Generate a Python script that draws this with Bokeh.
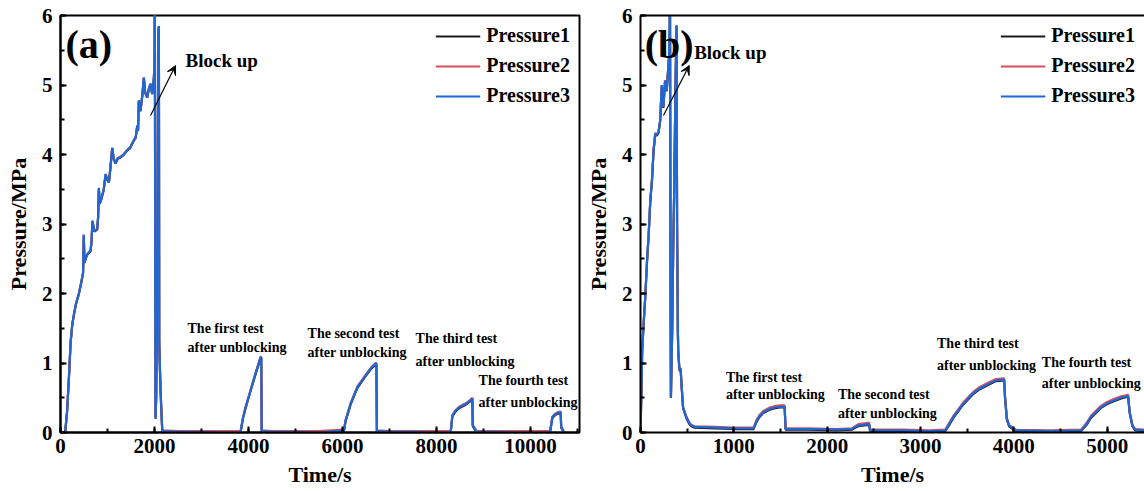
from bokeh.plotting import figure
from bokeh.layouts import row
from bokeh.models import (Range1d, Label, Arrow, VeeHead, LinearAxis, Legend,
                          LegendItem, SingleIntervalTicker, FixedTicker)
from bokeh.embed import file_html
from bokeh.resources import INLINE

FONT = "Liberation Serif"

# ---------------- Panel (a) data ----------------
a_time = [0, 100, 140, 180, 215, 250, 285, 330, 390, 440, 480, 495, 510, 560, 640, 660, 680, 720,
          780, 800, 816, 835, 870, 920, 960, 990, 1030, 1060, 1100, 1130, 1170, 1220, 1280, 1340,
          1420, 1480, 1560, 1600, 1632, 1650, 1666, 1700, 1740, 1773, 1800, 1845, 1880, 1915, 1950,
          1986, 2000, 2007, 2012, 2021, 2035, 2060, 2080, 2093, 2100, 2120, 2140, 2165, 2500, 3000,
          3500, 3830, 3880, 3937, 4043, 4150, 4256, 4270, 4280, 4500, 5000, 5500, 6030, 6064, 6170,
          6313, 6490, 6600, 6703, 6720, 6730, 7000, 7500, 8000, 8300, 8335, 8400, 8477, 8620, 8700,
          8761, 8770, 8850, 9200, 9700, 10413, 10463, 10520, 10570, 10640, 10650, 10711]
a_p3 = [0.0, 0.01, 0.3, 0.8, 1.3, 1.55, 1.7, 1.85, 2.0, 2.15, 2.3, 2.85, 2.45, 2.55, 2.62, 2.75, 3.05, 2.9,
        2.92, 3.1, 3.52, 3.3, 3.36, 3.5, 3.72, 3.65, 3.6, 3.8, 4.1, 3.95, 3.87, 3.95, 3.96, 4.0,
        4.06, 4.1, 4.2, 4.25, 4.42, 4.35, 4.78, 4.63, 4.85, 5.11, 4.9, 4.82, 4.95, 5.02, 4.87,
        5.1, 5.3, 6.5, 3.9, 0.2, 0.5, 2.0, 5.8, 5.85, 1.3, 0.8, 0.4, 0.02, 0.01, 0.01,
        0.0, 0.0, 0.2, 0.36, 0.6, 0.85, 1.08, 1.08, 0.02, 0.01, 0.01, 0.0, 0.03, 0.17, 0.41,
        0.65, 0.82, 0.92, 0.99, 0.99, 0.02, 0.01, 0.01, 0.0, 0.0, 0.24, 0.31, 0.36, 0.41, 0.45,
        0.49, 0.1, 0.01, 0.01, 0.0, 0.0, 0.22, 0.26, 0.28, 0.29, 0.08, 0.0]
a_p2 = [0.0, 0.01, 0.31, 0.8, 1.3, 1.56, 1.7, 1.86, 2.0, 2.16, 2.3, 2.84, 2.45, 2.56, 2.62, 2.76, 3.04, 2.9,
        2.93, 3.1, 3.5, 3.3, 3.37, 3.5, 3.71, 3.65, 3.61, 3.8, 4.09, 3.95, 3.88, 3.95, 3.97, 4.0,
        4.07, 4.1, 4.21, 4.25, 4.4, 4.35, 4.76, 4.63, 4.85, 5.1, 4.9, 4.83, 4.95, 5.02, 4.88,
        5.1, 5.3, 6.4, 3.9, 0.22, 0.5, 2.0, 5.78, 5.84, 1.3, 0.8, 0.41, 0.03, 0.02, 0.02,
        0.02, 0.02, 0.21, 0.37, 0.61, 0.86, 1.09, 1.09, 0.03, 0.02, 0.02, 0.02, 0.04, 0.18, 0.42,
        0.66, 0.83, 0.93, 1.0, 1.0, 0.03, 0.02, 0.02, 0.02, 0.02, 0.25, 0.32, 0.37, 0.42, 0.46,
        0.5, 0.11, 0.02, 0.02, 0.02, 0.02, 0.23, 0.27, 0.29, 0.3, 0.09, 0.01]
a_p1 = [0.0, 0.0, 0.3, 0.79, 1.29, 1.55, 1.69, 1.85, 1.99, 2.15, 2.29, 2.83, 2.44, 2.55, 2.61, 2.75, 3.03, 2.89,
        2.92, 3.09, 3.5, 3.29, 3.36, 3.49, 3.71, 3.64, 3.6, 3.79, 4.09, 3.94, 3.87, 3.94, 3.96, 3.99,
        4.06, 4.09, 4.2, 4.24, 4.41, 4.34, 4.77, 4.62, 4.84, 5.1, 4.89, 4.82, 4.94, 5.01, 4.87,
        5.09, 5.29, 6.45, 3.88, 0.2, 0.49, 1.98, 5.79, 5.84, 1.29, 0.79, 0.4, 0.01, 0.0, 0.0,
        0.0, 0.0, 0.2, 0.35, 0.6, 0.84, 1.07, 1.07, 0.01, 0.0, 0.0, 0.0, 0.02, 0.16, 0.4,
        0.64, 0.81, 0.91, 0.98, 0.98, 0.01, 0.0, 0.0, 0.0, 0.0, 0.23, 0.3, 0.35, 0.4, 0.44,
        0.48, 0.09, 0.0, 0.0, 0.0, 0.0, 0.21, 0.25, 0.27, 0.28, 0.07, 0.0]

# ---------------- Panel (b) data ----------------
b_time = [0, 10, 18, 35, 53, 70, 88, 105, 123, 140, 158, 175, 193, 211, 228, 245, 263, 281, 298, 310,
          316, 322, 326, 340, 351, 360, 375, 386, 392, 400, 404, 415, 421, 430, 439, 456, 491, 520,
          544, 579, 800, 1000, 1211, 1246, 1280, 1316, 1386, 1440, 1491, 1544, 1555, 1800, 2100,
          2264, 2300, 2334, 2439, 2450, 2460, 2800, 3100, 3264, 3300, 3352, 3457, 3562, 3630, 3703,
          3808, 3896, 3906, 3925, 3949, 4019, 4400, 4720, 4780, 4826, 4931, 5000, 5072, 5150, 5212,
          5225, 5240, 5270, 5300, 5400]
b_p3 = [0.0, 0.6, 1.18, 1.6, 2.0, 2.47, 2.86, 3.34, 3.63, 4.06, 4.3, 4.28, 4.32, 4.49, 5.0, 4.68, 5.06, 4.92, 5.26, 5.5,
        6.3, 2.0, 0.51, 1.5, 2.7, 3.4, 5.0, 5.86, 3.0, 1.5, 1.18, 0.95, 0.89, 0.92, 0.7, 0.36, 0.22, 0.14,
        0.1, 0.08, 0.07, 0.06, 0.06, 0.17, 0.24, 0.29, 0.34, 0.36, 0.37, 0.37, 0.05, 0.05, 0.04,
        0.05, 0.08, 0.1, 0.12, 0.12, 0.03, 0.03, 0.02, 0.03, 0.1, 0.22, 0.41, 0.56, 0.63, 0.68,
        0.75, 0.76, 0.5, 0.2, 0.1, 0.03, 0.02, 0.03, 0.12, 0.22, 0.36, 0.42, 0.46, 0.5, 0.52,
        0.52, 0.3, 0.1, 0.04, 0.03]
b_p2 = [0.0, 0.61, 1.19, 1.61, 2.01, 2.48, 2.87, 3.35, 3.64, 4.07, 4.31, 4.29, 4.33, 4.5, 5.0, 4.69, 5.07, 4.93, 5.27, 5.5,
        6.3, 2.0, 0.52, 1.5, 2.7, 3.4, 5.0, 5.86, 3.0, 1.5, 1.19, 0.96, 0.9, 0.93, 0.71, 0.37, 0.23, 0.15,
        0.11, 0.09, 0.08, 0.07, 0.07, 0.19, 0.26, 0.31, 0.36, 0.38, 0.39, 0.39, 0.06, 0.06, 0.05,
        0.06, 0.09, 0.12, 0.14, 0.14, 0.04, 0.04, 0.03, 0.04, 0.12, 0.24, 0.43, 0.58, 0.65, 0.7,
        0.77, 0.78, 0.52, 0.21, 0.11, 0.04, 0.03, 0.04, 0.14, 0.24, 0.38, 0.44, 0.48, 0.52, 0.54,
        0.54, 0.31, 0.11, 0.05, 0.04]
b_p1 = [0.0, 0.6, 1.17, 1.59, 1.99, 2.46, 2.85, 3.33, 3.62, 4.05, 4.29, 4.27, 4.31, 4.48, 4.98, 4.67, 5.05, 4.91, 5.25, 5.49,
        6.28, 1.98, 0.5, 1.49, 2.69, 3.39, 4.98, 5.84, 2.98, 1.49, 1.17, 0.94, 0.88, 0.91, 0.69, 0.35, 0.21, 0.13,
        0.09, 0.07, 0.06, 0.05, 0.05, 0.16, 0.23, 0.28, 0.33, 0.35, 0.36, 0.36, 0.04, 0.04, 0.03,
        0.04, 0.07, 0.09, 0.11, 0.11, 0.02, 0.02, 0.01, 0.02, 0.09, 0.21, 0.4, 0.55, 0.62, 0.67,
        0.74, 0.75, 0.49, 0.19, 0.09, 0.02, 0.01, 0.02, 0.11, 0.21, 0.35, 0.41, 0.45, 0.49, 0.51,
        0.51, 0.29, 0.09, 0.03, 0.02]

series_names = ["Pressure1", "Pressure2", "Pressure3"]
series_colors = ["#1a1a1a", "#d8505a", "#1f68d4"]
test_line1 = ["The first test", "The second test", "The third test", "The fourth test"]
test_line2 = "after unblocking"


def make_panel(width, x_end, x_interval, border_left, border_right, time, series, outline):
    p = figure(width=width, height=491, x_range=Range1d(0, x_end), y_range=Range1d(0, 6),
               output_backend="svg", toolbar_location=None,
               min_border_left=border_left, min_border_right=border_right,
               min_border_top=15, min_border_bottom=59)
    p.grid.visible = False
    p.background_fill_color = "white"
    p.border_fill_color = "white"
    xax = p.below[0]
    yax = p.left[0]
    xax.ticker = SingleIntervalTicker(interval=x_interval, num_minor_ticks=2)
    yax.ticker = SingleIntervalTicker(interval=1, num_minor_ticks=2)
    xax.axis_label = "Time/s"
    yax.axis_label = "Pressure/MPa"
    for ax in [xax, yax]:
        ax.axis_line_width = 2
        ax.axis_line_color = "black"
        ax.major_tick_in = 6
        ax.major_tick_out = 0
        ax.minor_tick_in = 4
        ax.minor_tick_out = 0
        ax.major_tick_line_width = 2
        ax.minor_tick_line_width = 2
        ax.major_label_text_font = FONT
        ax.major_label_text_font_style = "bold"
        ax.major_label_text_font_size = "21px"
        ax.major_label_text_color = "black"
        ax.axis_label_text_font = FONT
        ax.axis_label_text_font_style = "bold"
        ax.axis_label_text_font_size = "22px"
        ax.axis_label_text_color = "black"
        ax.major_label_standoff = 8
        ax.axis_label_standoff = 8
    xax.major_label_standoff = 6
    xax.axis_label_standoff = 6
    if outline:
        p.outline_line_color = "black"
        p.outline_line_width = 2
    else:
        p.outline_line_color = None
        top = LinearAxis(ticker=FixedTicker(ticks=[]), axis_line_width=2,
                         axis_line_color="black", major_tick_line_color=None,
                         minor_tick_line_color=None, major_label_text_font_size="0px")
        p.add_layout(top, "above")

    items = []
    for name, color, vals in zip(series_names, series_colors, series):
        r = p.line(time, vals, line_color=color, line_width=2.2)
        items.append(LegendItem(label=name, renderers=[r]))
    legend = Legend(items=items, location="top_right", border_line_color=None,
                    background_fill_alpha=0, label_text_font=FONT,
                    label_text_font_style="bold", label_text_font_size="20px",
                    label_text_color="black",
                    glyph_width=45, glyph_height=20, label_height=20, label_standoff=6,
                    spacing=7, padding=0, margin=9)
    p.add_layout(legend)
    return p


def add_text(p, x, y, text, size):
    p.add_layout(Label(x=x, y=y, text=text, text_font=FONT, text_font_style="bold",
                       text_font_size=size, text_baseline="middle", text_color="black"))


pa = make_panel(582, 11040, 2000, 60, 3, a_time, [a_p1, a_p2, a_p3], True)
pb = make_panel(562, 5400, 1000, 53, 0, b_time, [b_p1, b_p2, b_p3], False)

# panel labels and block-up annotations
add_text(pa, 106, 5.58, "(a)", "40px")
add_text(pa, 2660, 5.35, "Block up", "19px")
pa.add_layout(Arrow(end=VeeHead(size=9, fill_color="black", line_color="black"),
                    x_start=1915, y_start=4.56, x_end=2447, y_end=5.28,
                    line_color="black", line_width=1.2))
add_text(pb, 45, 5.58, "(b)", "40px")
add_text(pb, 575, 5.47, "Block up", "19px")
pb.add_layout(Arrow(end=VeeHead(size=9, fill_color="black", line_color="black"),
                    x_start=246, y_start=4.56, x_end=522, y_end=5.28,
                    line_color="black", line_width=1.2))

a_lab_x = [2702, 5255, 7553, 8894]
a_lab_y = [(1.50, 1.22), (1.42, 1.15), (1.35, 1.02), (0.75, 0.43)]
for t1, x, (y1, y2) in zip(test_line1, a_lab_x, a_lab_y):
    add_text(pa, x, y1, t1, "14px")
    add_text(pa, x, y2, test_line2, "14px")

b_lab_x = [915, 2115, 3177, 4300]
b_lab_y = [(0.79, 0.55), (0.55, 0.27), (1.28, 0.96), (1.01, 0.71)]
for t1, x, (y1, y2) in zip(test_line1, b_lab_x, b_lab_y):
    add_text(pb, x, y1, t1, "14px")
    add_text(pb, x, y2, test_line2, "14px")

layout = row(pa, pb)
open("out.html", "w").write(file_html(layout, INLINE))
